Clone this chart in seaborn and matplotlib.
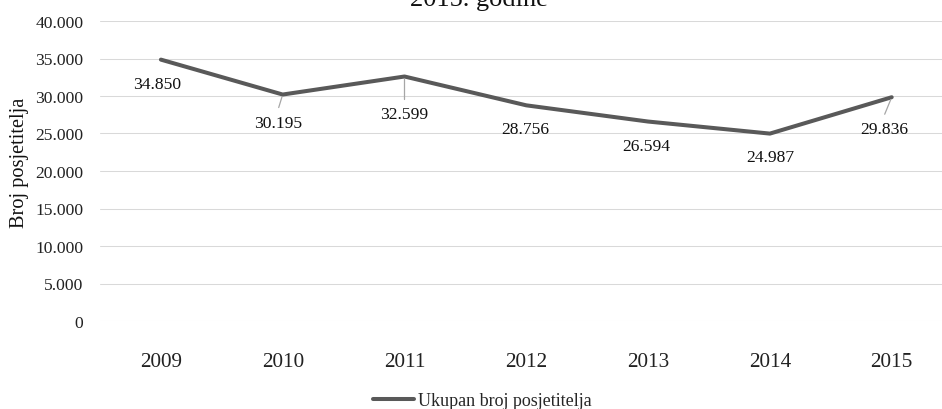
import matplotlib
matplotlib.use("Agg")
import matplotlib.pyplot as plt
import seaborn as sns
import pandas as pd
from matplotlib.ticker import FuncFormatter

# ---- data ----
years = ["2009", "2010", "2011", "2012", "2013", "2014", "2015"]
visitors = [34850, 30195, 32599, 28756, 26594, 24987, 29836]
series_name = "Ukupan broj posjetitelja"
y_label = "Broj posjetitelja"
title_tail = "2015. godine"

df = pd.DataFrame({"Godina": years, "Posjetitelji": visitors})

sns.set_theme(style="white")
plt.rcParams["font.family"] = ["Liberation Serif", "DejaVu Serif"]

W, H, DPI = 942, 410, 100
fig = plt.figure(figsize=(W / DPI, H / DPI), dpi=DPI)
ax = fig.add_axes([100 / W, 1 - 322 / H, 7 * 121.8 / W, 300 / H])

line_color = "#595959"
sns.lineplot(data=df, x="Godina", y="Posjetitelji", ax=ax, color=line_color,
             linewidth=2.9, label=series_name, legend=False, sort=False)
ax.lines[0].set_solid_capstyle("round")
ax.lines[0].set_solid_joinstyle("round")

ax.set_xlim(-0.5, 6.5)
ax.set_ylim(0, 40000)
ax.set_yticks(range(0, 40001, 5000))
ax.yaxis.set_major_formatter(FuncFormatter(lambda v, p: f"{int(v):,}".replace(",", ".")))
ax.grid(axis="y", color="#d9d9d9", linewidth=0.75)
ax.grid(axis="x", visible=False)
for s in ax.spines.values():
    s.set_visible(False)
ax.tick_params(axis="y", length=0, pad=12, labelsize=12.6, labelcolor="#222222")
ax.tick_params(axis="x", length=0, pad=22, labelsize=15.3, labelcolor="#222222")
ax.set_xlabel("")
ax.set_ylabel(y_label, fontsize=14.7, color="#111111")
ax.yaxis.set_label_coords(-0.083, 0.532)

# data labels (offsets in pixels: dx, dy)
offsets = [(-4, -24), (-5, -28), (0, -37), (-1, -24), (-2, -24.5), (0, -23.5), (-7, -32)]
leaders = {1: ((0, -2), (-4, -13)), 2: ((0, -1), (0, -23)), 6: ((-1, -1), (-7, -17))}
for i, (v, (dx, dy)) in enumerate(zip(visitors, offsets)):
    lbl = f"{v:,}".replace(",", ".")
    ax.annotate(lbl, xy=(i, v), xytext=(dx, dy), textcoords="offset pixels",
                ha="center", va="center", fontsize=12.6, color="#111111")
    if i in leaders:
        (x0, y0), (x1, y1) = leaders[i]
        ax.annotate("", xy=(i, v), xytext=(x1, y1), textcoords="offset pixels",
                    arrowprops=dict(arrowstyle="-", color="#a6a6a6", lw=0.9,
                                    shrinkA=0, shrinkB=2))

# clipped title line at top (as in the reference)
fig.text(479 / W, 1 - 6 / H, title_tail, ha="center", va="baseline",
         fontsize=19, color="#111111")

handles, labels = ax.get_legend_handles_labels()
fig.legend(handles, labels, loc="center", bbox_to_anchor=(482 / W, 1 - 402 / H),
           frameon=False, fontsize=13, handlelength=2.3, handletextpad=0.2,
           borderaxespad=0, borderpad=0)

fig.savefig("out.png", dpi=DPI, facecolor="white")
